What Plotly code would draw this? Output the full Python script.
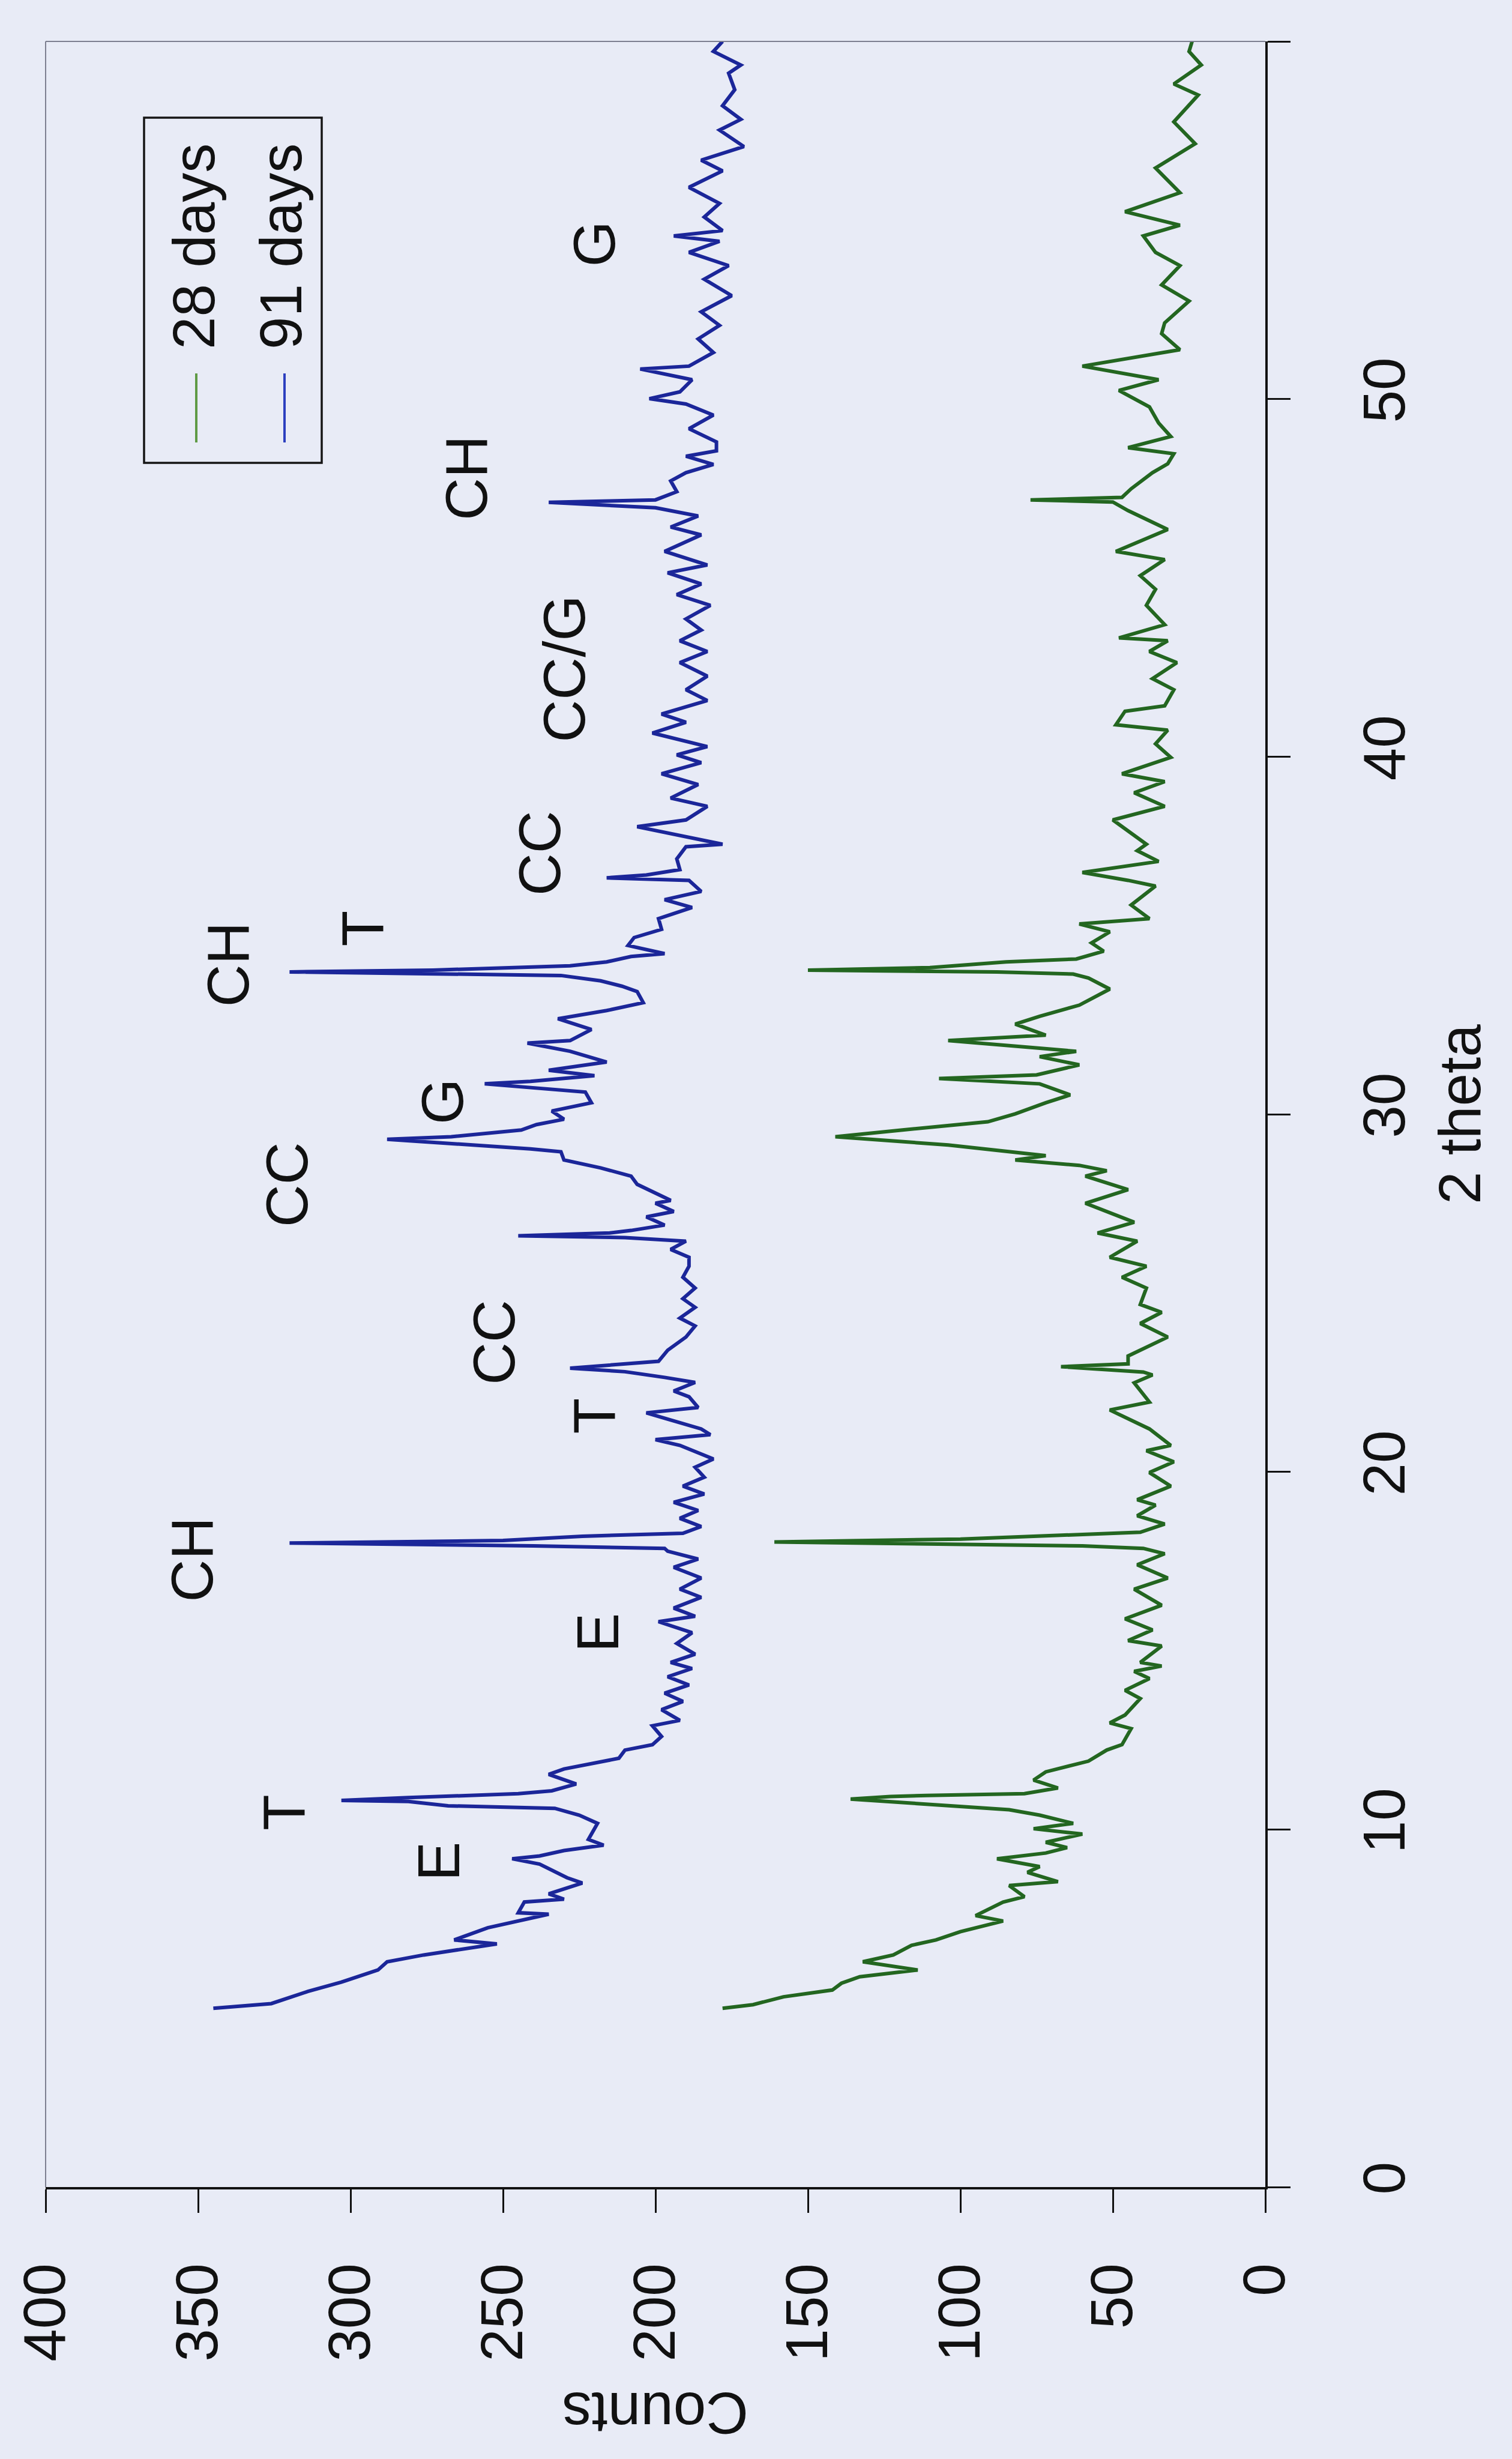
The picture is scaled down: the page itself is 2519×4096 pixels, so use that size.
import plotly.graph_objects as go

# ---- data (2 theta in degrees, counts) ----
theta_91 = [5.00, 5.13, 5.47, 5.73, 6.07, 6.30, 6.49, 6.80, 6.91, 7.25, 7.63, 7.67, 7.97, 8.05, 8.20, 8.50, 8.65, 9.03, 9.18, 9.26,
            9.41, 9.56, 9.72, 10.17, 10.40, 10.59, 10.62, 10.66, 10.78, 10.81, 10.89, 11.00, 11.08, 11.27, 11.54, 11.69, 11.99, 12.22, 12.37, 12.60,
            12.90, 13.05, 13.35, 13.58, 13.81, 14.04, 14.27, 14.50, 14.67, 14.90, 15.20, 15.50, 15.81, 15.96, 16.19, 16.49, 16.72, 17.03, 17.33, 17.56,
            17.78, 17.86, 17.93, 18.01, 18.08, 18.20, 18.28, 18.47, 18.70, 18.92, 19.15, 19.38, 19.60, 19.85, 20.13, 20.36, 20.74, 20.90, 21.04, 21.20,
            21.50, 21.65, 21.80, 22.10, 22.26, 22.50, 22.64, 22.80, 22.90, 22.98, 23.09, 23.40, 23.77, 24.08, 24.30, 24.60, 24.84, 25.14, 25.44, 25.75,
            26.00, 26.22, 26.45, 26.55, 26.60, 26.68, 26.75, 26.90, 27.13, 27.28, 27.51, 27.59, 28.04, 28.27, 28.50, 28.72, 28.95, 29.03, 29.18, 29.26,
            29.30, 29.37, 29.56, 29.71, 29.86, 30.09, 30.32, 30.62, 30.77, 30.85, 30.92, 31.08, 31.23, 31.46, 31.76, 31.99, 32.06, 32.37, 32.67, 32.82,
            32.90, 33.12, 33.43, 33.58, 33.73, 33.88, 33.92, 33.98, 34.03, 34.15, 34.26, 34.41, 34.49, 34.72, 34.94, 35.17, 35.47, 35.78, 36.00, 36.23,
            36.54, 36.61, 36.69, 36.84, 37.14, 37.48, 37.55, 37.80, 38.04, 38.23, 38.61, 38.84, 39.22, 39.52, 39.83, 40.05, 40.28, 40.66, 40.96, 41.19,
            41.57, 41.87, 42.25, 42.63, 42.94, 43.24, 43.54, 43.85, 44.23, 44.53, 44.83, 45.14, 45.36, 45.74, 46.20, 46.42, 46.73, 46.96, 47.07, 47.11,
            47.15, 47.18, 47.41, 47.71, 47.94, 48.17, 48.40, 48.55, 48.80, 49.17, 49.55, 49.86, 50.01, 50.20, 50.54, 50.84, 50.92, 51.30, 51.68, 52.06,
            52.44, 52.89, 53.35, 53.73, 54.10, 54.41, 54.56, 54.71, 55.09, 55.47, 55.92, 56.38, 56.68, 57.06, 57.52, 57.82, 58.20, 58.65, 59.11, 59.34,
            59.72, 60.00]
counts_91 = [345, 326, 314, 303, 291, 288, 276, 252, 266, 255, 235, 245, 243, 230, 235, 224, 229, 238, 247, 238,
             230, 217, 222, 219, 225, 233, 247, 268, 281, 303, 281, 245, 234, 226, 235, 230, 212, 210, 201, 198,
             201, 192, 198, 191, 197, 189, 196, 188, 195, 187, 193, 188, 199, 187, 194, 185, 192, 185, 194, 186,
             196, 197, 240, 320, 250, 224, 191, 185, 192, 186, 194, 184, 191, 184, 187, 181, 192, 200, 182, 185,
             197, 203, 186, 189, 194, 187, 197, 210, 228, 214, 199, 196, 190, 187, 192, 187, 191, 187, 191, 189,
             189, 195, 190, 210, 245, 215, 208, 197, 203, 194, 200, 195, 206, 208, 218, 230, 231, 241, 267, 279,
             288, 267, 244, 239, 230, 234, 221, 223, 244, 256, 241, 220, 235, 216, 228, 242, 228, 221, 232, 222,
             216, 204, 206, 211, 218, 231, 272, 320, 273, 228, 216, 208, 197, 209, 207, 198, 199, 188, 197, 185,
             189, 216, 203, 192, 193, 190, 178, 192, 206, 190, 183, 195, 186, 198, 185, 193, 183, 201, 190, 198,
             183, 190, 183, 192, 183, 192, 185, 190, 182, 193, 185, 196, 183, 197, 185, 195, 186, 200, 223, 235,
             215, 200, 193, 195, 190, 181, 190, 180, 180, 189, 181, 190, 202, 192, 188, 205, 189, 181, 186, 179,
             185, 175, 184, 176, 189, 179, 194, 178, 184, 179, 189, 178, 185, 171, 179, 172, 178, 174, 176, 172,
             181, 178]

theta_28 = [5.00, 5.10, 5.32, 5.51, 5.70, 5.88, 6.07, 6.30, 6.49, 6.76, 6.91, 7.14, 7.44, 7.59, 7.97, 8.12, 8.43, 8.54, 8.80, 8.96,
            9.18, 9.34, 9.49, 9.64, 9.87, 10.02, 10.17, 10.40, 10.55, 10.70, 10.78, 10.85, 10.92, 10.95, 11.00, 11.16, 11.38, 11.61, 11.91, 12.22,
            12.37, 12.82, 12.98, 13.20, 13.66, 13.89, 14.22, 14.42, 14.57, 14.67, 15.13, 15.28, 15.58, 15.89, 16.27, 16.72, 17.03, 17.40, 17.71, 17.86,
            17.93, 17.98, 18.04, 18.12, 18.20, 18.31, 18.54, 18.77, 19.07, 19.22, 19.60, 19.98, 20.28, 20.59, 20.74, 21.20, 21.73, 21.95, 22.49, 22.71,
            22.79, 22.94, 23.02, 23.24, 23.77, 24.15, 24.46, 24.68, 25.14, 25.44, 25.75, 26.00, 26.45, 26.68, 26.98, 27.51, 27.89, 28.27, 28.42, 28.57,
            28.72, 28.84, 29.14, 29.37, 29.56, 29.79, 30.01, 30.32, 30.54, 30.85, 31.00, 31.10, 31.38, 31.61, 31.76, 32.06, 32.21, 32.52, 32.74, 33.05,
            33.50, 33.81, 33.92, 33.98, 34.03, 34.10, 34.26, 34.34, 34.56, 34.79, 35.10, 35.32, 35.47, 35.85, 36.38, 36.54, 36.76, 37.07, 37.37, 37.55,
            38.23, 38.61, 38.99, 39.30, 39.52, 39.98, 40.36, 40.74, 40.89, 41.27, 41.42, 41.87, 42.18, 42.63, 42.94, 43.24, 43.32, 43.69, 44.23, 44.68,
            45.06, 45.51, 45.74, 46.35, 46.88, 47.12, 47.18, 47.25, 47.49, 47.94, 48.19, 48.47, 48.64, 48.95, 49.33, 49.78, 50.24, 50.54, 50.92, 51.38,
            51.83, 52.13, 52.74, 53.19, 53.73, 54.10, 54.56, 54.86, 55.24, 55.47, 55.77, 56.46, 57.14, 57.75, 58.50, 58.81, 59.34, 59.72, 60.00]
counts_28 = [178, 168, 158, 142, 139, 133, 114, 132, 122, 116, 108, 100, 86, 95, 86, 79, 84, 68, 78, 74,
             88, 72, 65, 72, 60, 76, 63, 74, 84, 111, 123, 136, 123, 111, 79, 68, 76, 72, 58, 52,
             47, 44, 51, 46, 41, 46, 38, 43, 34, 41, 34, 45, 37, 46, 34, 43, 32, 42, 33, 40,
             60, 100, 161, 100, 77, 41, 33, 42, 36, 42, 31, 38, 30, 39, 31, 38, 51, 38, 43, 37,
             40, 67, 45, 45, 32, 41, 34, 41, 39, 47, 39, 51, 42, 55, 43, 59, 45, 59, 52, 61,
             82, 72, 104, 141, 119, 91, 82, 72, 64, 74, 107, 75, 61, 74, 62, 104, 72, 82, 74, 61,
             51, 58, 63, 88, 150, 110, 85, 62, 53, 57, 51, 61, 38, 44, 36, 45, 60, 35, 42, 39,
             50, 33, 43, 33, 47, 31, 36, 32, 49, 46, 33, 30, 37, 29, 38, 32, 48, 33, 39, 36,
             41, 33, 49, 32, 45, 50, 77, 47, 44, 37, 32, 30, 45, 31, 35, 38, 48, 35, 60, 28,
             34, 33, 25, 34, 28, 36, 40, 28, 46, 38, 28, 36, 23, 30, 22, 30, 21, 25, 24]

series_names = ["28 days", "91 days"]
series_colors = ["#236620", "#1b2699"]
legend_line_colors = ["#5f9a45", "#2c3fbf"]

# peak labels: (text, counts position, 2-theta position)
label_text = ["T", "E", "CH", "E", "T", "CC", "CC", "G", "CH", "T", "CC", "CC/G", "CH", "G"]
label_counts = [322, 271, 352, 219, 220, 253, 321, 270, 340, 296, 238, 230, 262, 220]
label_theta = [10.48, 9.10, 17.55, 15.50, 21.57, 23.62, 28.04, 30.36, 34.19, 35.20, 37.30, 42.46, 47.80, 54.34]

count_ticks = [0, 50, 100, 150, 200, 250, 300, 350, 400]
theta_ticks = [0, 10, 20, 30, 40, 50, 60]

# ---- layout geometry (window pixels) ----
W, H = 2519, 4096
PL, PR, PT, PB = 76, 2108, 69, 3643
FONT = "Arial, Liberation Sans, sans-serif"
BG = "#e8ebf6"
TXT = "#111111"
FS = 98


def px(xp):
    return (xp - PL) / (PR - PL)


def py(yp):
    return (PB - yp) / (PB - PT)


fig = go.Figure()
fig.add_trace(go.Scatter(x=counts_28, y=theta_28, mode="lines", name=series_names[0],
                         line=dict(color=series_colors[0], width=6), showlegend=False))
fig.add_trace(go.Scatter(x=counts_91, y=theta_91, mode="lines", name=series_names[1],
                         line=dict(color=series_colors[1], width=6), showlegend=False))

annotations = []
for t, c, th in zip(label_text, label_counts, label_theta):
    annotations.append(dict(x=c, y=th, xref="x", yref="y", text=t, showarrow=False, textangle=-90,
                            xanchor="center", yanchor="middle",
                            font=dict(family=FONT, size=FS, color=TXT)))

# axis titles (rotated chart)
annotations.append(dict(x=px(2432), y=30, xref="paper", yref="y", text="2 theta", showarrow=False,
                        textangle=-90, xanchor="center", yanchor="middle",
                        font=dict(family=FONT, size=FS, color=TXT)))
annotations.append(dict(x=200, y=py(4020), xref="x", yref="paper", text="Counts", showarrow=False,
                        textangle=180, xanchor="center", yanchor="middle",
                        font=dict(family=FONT, size=FS, color=TXT)))

# legend (drawn manually, rotated)
shapes = []
shapes.append(dict(type="rect", xref="paper", yref="paper", x0=px(240), x1=px(536), y0=py(771), y1=py(196),
                   line=dict(color="#151515", width=3.5), fillcolor=BG, layer="above"))
for i, (lx, tx) in enumerate([(327, 323), (474, 468)]):
    shapes.append(dict(type="line", xref="paper", yref="paper", x0=px(lx), x1=px(lx), y0=py(737), y1=py(622),
                       line=dict(color=legend_line_colors[i], width=4), layer="above"))
    annotations.append(dict(x=px(tx), y=py(411), xref="paper", yref="paper", text=series_names[i],
                            showarrow=False, textangle=-90, xanchor="center", yanchor="middle",
                            font=dict(family=FONT, size=FS, color=TXT)))

# frame lines on the left and top
shapes.append(dict(type="line", xref="paper", yref="paper", x0=0, x1=0, y0=0, y1=1,
                   line=dict(color="#7d7f90", width=2)))
shapes.append(dict(type="line", xref="paper", yref="paper", x0=0, x1=1, y0=1, y1=1,
                   line=dict(color="#7d7f90", width=2)))

fig.update_layout(
    width=W, height=H,
    margin=dict(l=PL, r=W - PR, t=PT, b=H - PB, pad=0),
    paper_bgcolor=BG, plot_bgcolor=BG,
    showlegend=False,
    annotations=annotations, shapes=shapes,
    font=dict(family=FONT, size=FS, color=TXT),
)
fig.update_xaxes(range=[400, 0], tickvals=count_ticks, ticktext=[str(v) for v in count_ticks],
                 tickangle=-90, ticks="outside", ticklen=39, tickwidth=3, tickcolor=TXT,
                 showline=True, linecolor=TXT, linewidth=4, showgrid=False, zeroline=False,
                 tickfont=dict(family=FONT, size=FS, color=TXT), ticklabelstandoff=45)
fig.update_yaxes(range=[0, 60], side="right", tickvals=theta_ticks, ticktext=[str(v) for v in theta_ticks],
                 tickangle=-90, ticks="outside", ticklen=38, tickwidth=3, tickcolor=TXT,
                 showline=True, linecolor=TXT, linewidth=4, showgrid=False, zeroline=False,
                 tickfont=dict(family=FONT, size=FS, color=TXT), ticklabelstandoff=72)

fig.write_html("out.html")
